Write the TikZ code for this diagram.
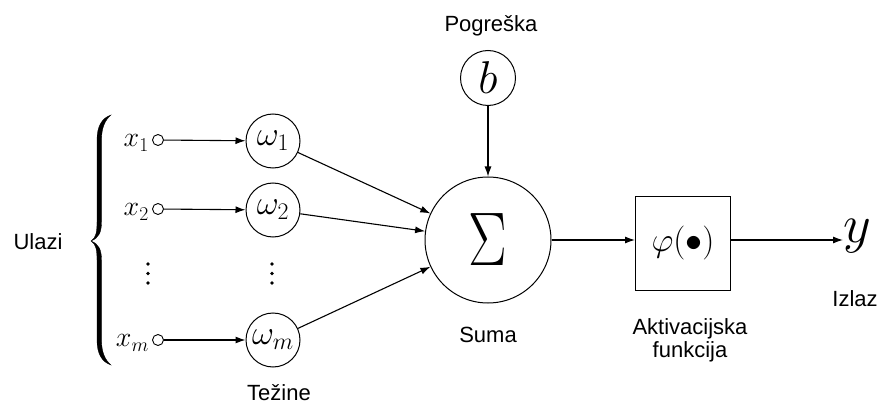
\RequirePackage{fix-cm}
\documentclass[tikz,border=0pt]{standalone}
\usepackage{fontspec}
\setmainfont{Liberation Sans}
\usetikzlibrary{arrows.meta}
\begin{document}
\begin{tikzpicture}[x=1pt,y=-1pt,
  lbl/.style={font=\fontsize{22}{26}\selectfont, align=center},
  wc/.style={draw, circle, line width=1pt, minimum size=54pt, inner sep=0pt, font=\fontsize{34}{36}\selectfont},
  inc/.style={draw, circle, line width=0.9pt, minimum size=11pt, inner sep=0pt},
  vdot/.style={fill, circle, minimum size=3.8pt, inner sep=0pt},
  arr/.style={line width=1.1pt, -{Latex[length=10pt,width=7pt]}},
  mth/.style={font=\fontsize{28}{30}\selectfont, inner sep=0pt}
]
\useasboundingbox (0,0) rectangle (881,409);
% labels
\node[lbl] (ulazi) at (38,242) {Ulazi};
\node[lbl] (pogreska) at (491,26) {Pogreška};
\node[lbl] (suma) at (488,335) {Suma};
\node[lbl] (tezine) at (279,393) {Težine};
\node[lbl] (izlaz) at (855,299) {Izlaz};
\node[lbl] (aktiv) at (690,340) {Aktivacijska\\[-3pt]funkcija};
% brace
\fill[line width=0.3pt, draw] (111,115) .. controls (102,118) and (97,126) .. (97,140) -- (97,222)
  .. controls (97,232) and (96,238) .. (91,241) .. controls (96,244) and (97,250) .. (97,260)
  -- (97,340) .. controls (97,354) and (102,362) .. (111,365)
  .. controls (105,360) and (101.5,352) .. (101.5,340) -- (101.5,260)
  .. controls (101.5,250) and (99,244) .. (91,241)
  .. controls (99,238) and (101.5,232) .. (101.5,222) -- (101.5,140)
  .. controls (101.5,128) and (105,120) .. (111,115) -- cycle;
% inputs
\node[mth, anchor=east] (x1) at (149,143) {$x_1$};
\node[mth, anchor=east] (x2) at (149,212) {$x_2$};
\node[mth, anchor=east] (xm) at (149,343) {$x_m$};
\node[vdot] (xda) at (148,264) {};
\node[vdot] (xdb) at (148,273.5) {};
\node[vdot] (xdc) at (148,283) {};
\node[inc] (i1) at (158,140) {};
\node[inc] (i2) at (158,209) {};
\node[inc] (im) at (158,340) {};
% weights
\node[wc] (w1) at (273,141) {$\omega_1$};
\node[wc] (w2) at (273,210) {$\omega_2$};
\node[wc] (wm) at (273,340) {$\omega_m$};
\node[vdot] (wda) at (272,264) {};
\node[vdot] (wdb) at (272,273.5) {};
\node[vdot] (wdc) at (272,283) {};
% sum, bias, activation
\node[draw, circle, line width=1pt, minimum size=126pt, inner sep=0pt] (sum) at (488,240) {\fontsize{76}{80}\selectfont\scalebox{0.76}[1]{$\Sigma$}};
\node[draw, circle, line width=1pt, minimum size=55pt, inner sep=0pt] (b) at (488,78) {\fontsize{46}{50}\selectfont$b$};
\node[draw, line width=1pt, minimum width=95pt, minimum height=94pt, inner sep=0pt] (phi) at (683,243) {\fontsize{34}{36}\selectfont$\varphi(\bullet)$};
\node[font=\fontsize{54}{58}\selectfont, inner sep=0pt, anchor=west] (y) at (843,236) {$y$};
% connectors
\draw[arr] (i1) -- (w1);
\draw[arr] (i2) -- (w2);
\draw[arr] (im) -- (wm);
\draw[arr] (w1) -- (sum);
\draw[arr] (w2) -- (sum);
\draw[arr] (wm) -- (sum);
\draw[arr] (b) -- (sum);
\draw[arr] (sum.east) -- (phi.west |- sum.east);
\draw[arr] (phi.east |- sum.east) -- (y.west |- sum.east);
\end{tikzpicture}
\end{document}
